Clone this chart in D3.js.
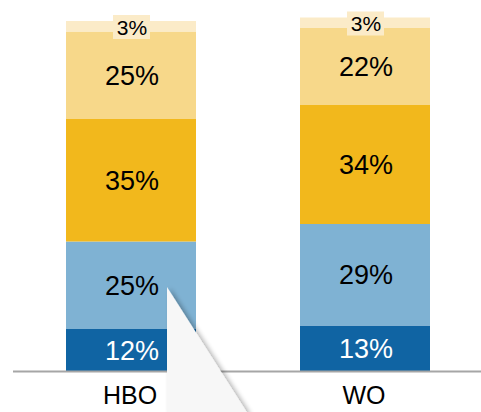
<!DOCTYPE html>
<html>
<head>
<meta charset="utf-8">
<script src="https://cdn.jsdelivr.net/npm/d3@7"></script>
<style>
  html, body { margin: 0; padding: 0; background: #fff; }
  svg { display: block; font-family: Arial, "Liberation Sans", sans-serif; }
</style>
</head>
<body>
<div id="chart"></div>
<script>
// カテゴリ
const categories = ['HBO', 'WO'];
// 系列（下から順）
const seriesKeys = ['s1', 's2', 's3', 's4', 's5'];
const s1 = [12, 13];
const s2 = [25, 29];
const s3 = [35, 34];
const s4 = [25, 22];
const s5 = [3, 3];
const seriesValues = [s1, s2, s3, s4, s5];

const colors = ['#1064a3', '#7fb2d3', '#f2b81c', '#f7d88a', '#fbebc8'];
const labelColors = ['#fff', '#000', '#000', '#000', '#000'];

const data = categories.map((c, i) => {
  const row = { cat: c };
  seriesKeys.forEach((k, j) => { row[k] = seriesValues[j][i]; });
  return row;
});

// svg領域設定
const svgWidth = 481;
const svgHeight = 412;
const svg = d3.select('#chart')
  .append('svg')
  .attr('width', svgWidth)
  .attr('height', svgHeight);

// scale設定
const x = d3.scaleBand()
  .domain(categories)
  .range([-4.2, 500.2])
  .paddingInner(104 / 234)
  .paddingOuter(0.3);
const y = d3.scaleLinear()
  .domain([0, 100])
  .range([371, 21]);

const stack = d3.stack().keys(seriesKeys);
const series = stack(data);

// bars
const layer = svg.selectAll('.layer')
  .data(series)
  .enter()
  .append('g')
  .attr('class', 'layer')
  .attr('fill', (d, i) => colors[i]);

layer.selectAll('rect')
  .data(d => d)
  .enter()
  .append('rect')
  .attr('x', d => x(d.data.cat))
  .attr('width', x.bandwidth())
  .attr('y', d => y(d[1]))
  .attr('height', d => y(d[0]) - y(d[1]));

// 3% のラベル背景
const topSeries = series[series.length - 1];
const topBox = svg.append('g');
topSeries.forEach(d => {
  const cx = x(d.data.cat) + x.bandwidth() / 2;
  topBox.append('rect')
    .attr('x', cx - 18)
    .attr('y', y(d[1]) - 6)
    .attr('width', 37)
    .attr('height', 24)
    .attr('fill', colors[4]);
});

// labels
series.forEach((s, i) => {
  const small = i === series.length - 1;
  svg.append('g')
    .selectAll('text')
    .data(s)
    .enter()
    .append('text')
    .attr('x', d => x(d.data.cat) + x.bandwidth() / 2 + 1)
    .attr('y', d => small ? y(d[1]) + 6 : (y(d[0]) + y(d[1])) / 2)
    .attr('dy', '0.36em')
    .attr('text-anchor', 'middle')
    .attr('font-size', small ? '21px' : '27px')
    .attr('fill', labelColors[i])
    .text(d => (d[1] - d[0]) + '%');
});

// baseline
svg.append('line')
  .attr('x1', 13)
  .attr('x2', svgWidth)
  .attr('y1', y(0) + 0.5)
  .attr('y2', y(0) + 0.5)
  .attr('stroke', '#a6a6a6')
  .attr('stroke-width', 2);

// category labels
svg.append('g')
  .selectAll('text')
  .data(categories)
  .enter()
  .append('text')
  .attr('x', d => x(d) + x.bandwidth() / 2 - 1)
  .attr('y', 404)
  .attr('text-anchor', 'middle')
  .attr('font-size', '25px')
  .attr('fill', '#000')
  .text(d => d);

// callout
const defs = svg.append('defs');
const f = defs.append('filter').attr('id', 'shadow')
  .attr('x', '-20%').attr('y', '-20%').attr('width', '160%').attr('height', '160%');
f.append('feGaussianBlur').attr('in', 'SourceAlpha').attr('stdDeviation', 2.5);
f.append('feOffset').attr('dx', 3).attr('dy', 1).attr('result', 'blur');
f.append('feComponentTransfer').append('feFuncA').attr('type', 'linear').attr('slope', 0.3);
const m = f.append('feMerge');
m.append('feMergeNode');
m.append('feMergeNode').attr('in', 'SourceGraphic');

const tipX = x('HBO') + x.bandwidth() - 29;
svg.append('path')
  .attr('d', `M${tipX},287 L${tipX + 81},${svgHeight + 2} L${tipX},${svgHeight + 2} Z`)
  .attr('fill', '#f7f7f7')
  .attr('filter', 'url(#shadow)');
</script>
</body>
</html>
